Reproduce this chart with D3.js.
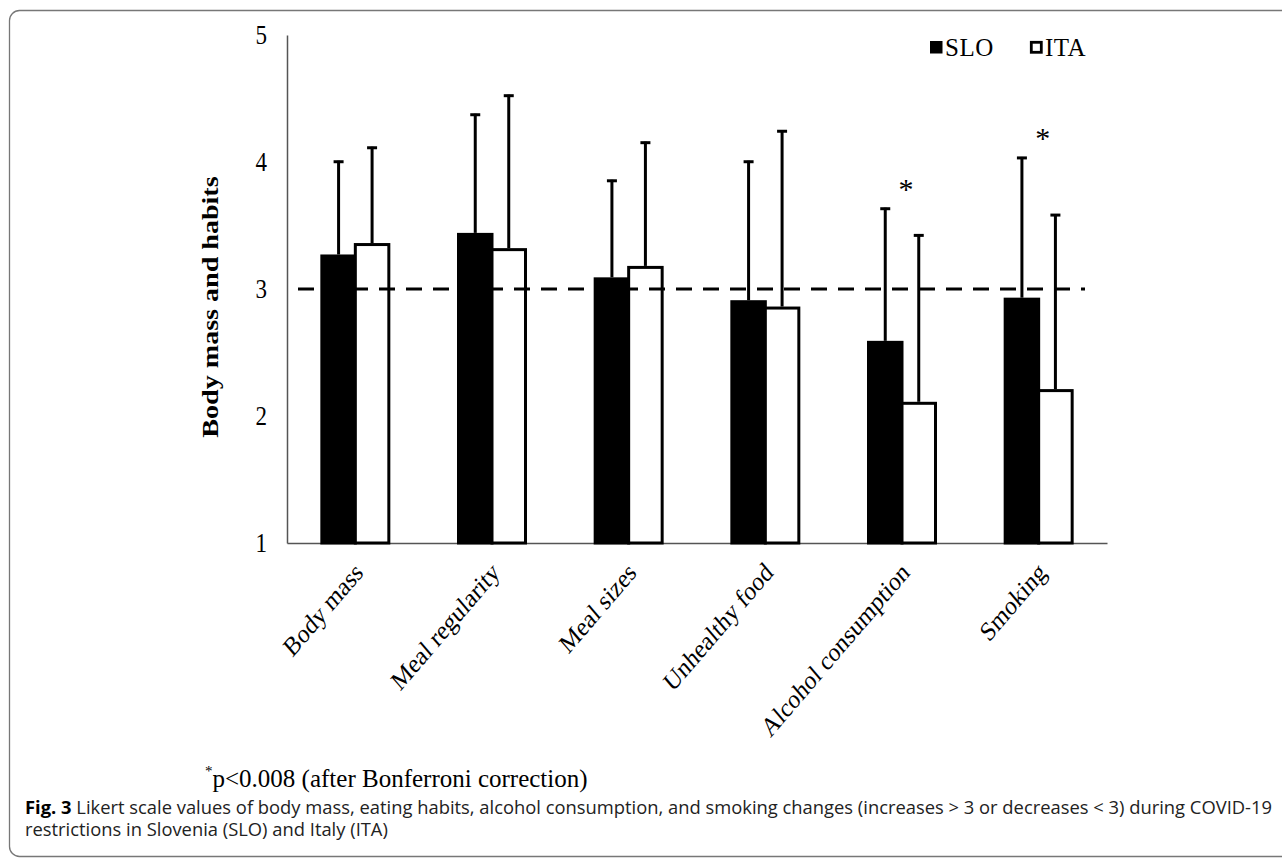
<!DOCTYPE html>
<html>
<head>
<meta charset="utf-8">
<script src="https://cdn.jsdelivr.net/npm/d3@7"></script>
<style>
  html, body { margin: 0; padding: 0; background: #fff; }
  svg { display: block; }
</style>
</head>
<body>
<div id="chart"></div>
<script>
// values
const categories = ['Body mass', 'Meal regularity', 'Meal sizes', 'Unhealthy food', 'Alcohol consumption', 'Smoking'];
const series = ['SLO', 'ITA'];
const sloMeans = [3.26, 3.43, 3.08, 2.90, 2.58, 2.92];
const sloErrors = [0.75, 0.95, 0.78, 1.11, 1.06, 1.12];
const itaMeans = [3.35, 3.31, 3.17, 2.85, 2.10, 2.20];
const itaErrors = [0.77, 1.22, 0.99, 1.40, 1.33, 1.39];
const significant = [false, false, false, false, true, true];
const yTicks = [1, 2, 3, 4, 5];
const reference = 3;

const footnote = 'p<0.008 (after Bonferroni correction)';
const captionBold = 'Fig. 3';
const captionLine1 = 'Likert scale values of body mass, eating habits, alcohol consumption, and smoking changes (increases > 3 or decreases < 3) during COVID-19';
const captionLine2 = 'restrictions in Slovenia (SLO) and Italy (ITA)';

const width = 1282;
const height = 858;
const margin = { top: 35, right: 175, bottom: 315, left: 287 };
const serif = '"Liberation Serif", "Times New Roman", serif';
const sans = '"Open Sans", "Noto Sans", sans-serif';
// the figure was pasted slightly taller than wide
const stretch = 1.17;

const svg = d3.select('#chart')
  .append('svg')
  .attr('width', width)
  .attr('height', height);

// frame round the figure
svg.append('rect')
  .attr('x', 9.5)
  .attr('y', 10.5)
  .attr('width', 1400)
  .attr('height', 846)
  .attr('rx', 10)
  .attr('fill', 'none')
  .attr('stroke', '#777')
  .attr('stroke-width', 1.3);

const x = d3.scaleBand()
  .domain(categories)
  .range([margin.left, width - margin.right])
  .paddingInner(0)
  .paddingOuter(0);

const xInner = d3.scaleBand()
  .domain(series)
  .range([0, x.bandwidth()])
  .paddingInner(0)
  .paddingOuter(1.04);

const y = d3.scaleLinear()
  .domain([1, 5])
  .range([height - margin.bottom, margin.top]);

const rows = categories.map((c, i) => ({
  category: c,
  values: [
    { key: 'SLO', mean: sloMeans[i], err: sloErrors[i] },
    { key: 'ITA', mean: itaMeans[i], err: itaErrors[i] }
  ],
  significant: significant[i]
}));

// axes: plain lines, no ticks
const yAxis = svg.append('g')
  .attr('transform', `translate(${margin.left},0)`)
  .call(d3.axisLeft(y).tickValues(yTicks).tickFormat(d3.format('d')).tickSize(0).tickPadding(20));
yAxis.select('.domain').attr('stroke', '#555').attr('stroke-width', 1.5);
yAxis.selectAll('text')
  .attr('font-family', serif)
  .attr('font-size', 23)
  .attr('fill', '#000')
  .attr('transform', `scale(1,${stretch})`);
// scale() moves the tick position too, so put the label back on its tick
yAxis.selectAll('.tick')
  .attr('transform', d => `translate(0,${y(d)})`)
  .select('text')
  .attr('dy', '0.32em');

const xAxis = svg.append('g')
  .attr('transform', `translate(0,${y(1)})`)
  .call(d3.axisBottom(x).tickSize(0).tickFormat(''));
xAxis.select('.domain').attr('stroke', '#555').attr('stroke-width', 1.5);

// category labels, rotated
svg.append('g')
  .selectAll('text')
  .data(categories)
  .join('text')
  .attr('transform', d => `translate(${x(d) + x.bandwidth() / 2 + 9},${y(1) + 31}) scale(1,${stretch}) rotate(-45)`)
  .attr('text-anchor', 'end')
  .attr('font-family', serif)
  .attr('font-size', 23)
  .attr('fill', '#000')
  .text(d => d);

svg.append('text')
  .attr('transform', `translate(218,${(y(1) + y(5)) / 2 + 18}) scale(1,${stretch}) rotate(-90)`)
  .attr('text-anchor', 'middle')
  .attr('font-family', serif)
  .attr('font-size', 24)
  .attr('font-weight', 'bold')
  .attr('fill', '#000')
  .text('Body mass and habits');

// bars
const groups = svg.append('g')
  .selectAll('g')
  .data(rows)
  .join('g')
  .attr('transform', d => `translate(${x(d.category)},0)`);

groups.selectAll('rect')
  .data(d => d.values)
  .join('rect')
  .attr('x', d => xInner(d.key))
  .attr('y', d => y(d.mean))
  .attr('width', xInner.bandwidth())
  .attr('height', d => y(1) - y(d.mean))
  .attr('fill', d => d.key === 'SLO' ? '#000' : '#fff')
  .attr('stroke', '#000')
  .attr('stroke-width', 3);

// reference line at 3
svg.append('line')
  .attr('x1', margin.left + 11)
  .attr('x2', width - margin.right - 22)
  .attr('y1', y(reference))
  .attr('y2', y(reference))
  .attr('stroke', '#000')
  .attr('stroke-width', 3)
  .attr('stroke-dasharray', '16,11');

// upper error bars
const errs = groups.selectAll('g.err')
  .data(d => d.values)
  .join('g')
  .attr('class', 'err');

errs.append('line')
  .attr('x1', d => xInner(d.key) + xInner.bandwidth() / 2)
  .attr('x2', d => xInner(d.key) + xInner.bandwidth() / 2)
  .attr('y1', d => y(d.mean) - 1.5)
  .attr('y2', d => y(d.mean + d.err))
  .attr('stroke', '#000')
  .attr('stroke-width', 3);

errs.append('line')
  .attr('x1', d => xInner(d.key) + xInner.bandwidth() / 2 - 5)
  .attr('x2', d => xInner(d.key) + xInner.bandwidth() / 2 + 5)
  .attr('y1', d => y(d.mean + d.err) + 1)
  .attr('y2', d => y(d.mean + d.err) + 1)
  .attr('stroke', '#000')
  .attr('stroke-width', 3);

// significance marks
groups.filter(d => d.significant)
  .append('text')
  .attr('x', x.bandwidth() / 2 + 4)
  .attr('y', d => y(d3.max(d.values, v => v.mean + v.err)) - 9)
  .attr('text-anchor', 'middle')
  .attr('font-family', serif)
  .attr('font-size', 30)
  .attr('fill', '#000')
  .text('*');

// legend
const legend = svg.append('g')
  .selectAll('g')
  .data(series)
  .join('g')
  .attr('transform', (d, i) => `translate(${930 + i * 100},41)`);

legend.append('rect')
  .attr('x', d => d === 'SLO' ? 0 : 1.3)
  .attr('y', d => d === 'SLO' ? 0 : 1.3)
  .attr('width', d => d === 'SLO' ? 12.5 : 10)
  .attr('height', d => d === 'SLO' ? 12.5 : 10)
  .attr('fill', d => d === 'SLO' ? '#000' : '#fff')
  .attr('stroke', '#000')
  .attr('stroke-width', d => d === 'SLO' ? 0 : 2.8);

legend.append('text')
  .attr('x', 15)
  .attr('y', 15)
  .attr('font-family', serif)
  .attr('font-size', 25)
  .attr('letter-spacing', 0.5)
  .attr('fill', '#000')
  .text(d => d);

// footnote
const fn = svg.append('text')
  .attr('x', 205)
  .attr('y', 787)
  .attr('font-family', serif)
  .attr('font-size', 25)
  .attr('fill', '#000');
fn.append('tspan').attr('font-size', 15).attr('dy', -11).text('*');
fn.append('tspan').attr('dy', 11).text(footnote);

// caption
const cap1 = svg.append('text')
  .attr('x', 25)
  .attr('y', 814)
  .attr('font-family', sans)
  .attr('font-size', 18)
  .attr('fill', '#222');
cap1.append('tspan').attr('font-weight', 'bold').attr('fill', '#000').text(captionBold);
cap1.append('tspan').text('  ' + captionLine1);

const cap2 = svg.append('text')
  .attr('x', 25)
  .attr('y', 836)
  .attr('font-family', sans)
  .attr('font-size', 18)
  .attr('fill', '#222')
  .text(captionLine2);

// squeeze the caption to the narrow face of the original
const natural = cap1.node().getComputedTextLength();
const squeeze = (1272 - 25) / natural;
cap1.attr('textLength', natural * squeeze).attr('lengthAdjust', 'spacingAndGlyphs');
cap2.attr('textLength', cap2.node().getComputedTextLength() * squeeze).attr('lengthAdjust', 'spacingAndGlyphs');
</script>
</body>
</html>
